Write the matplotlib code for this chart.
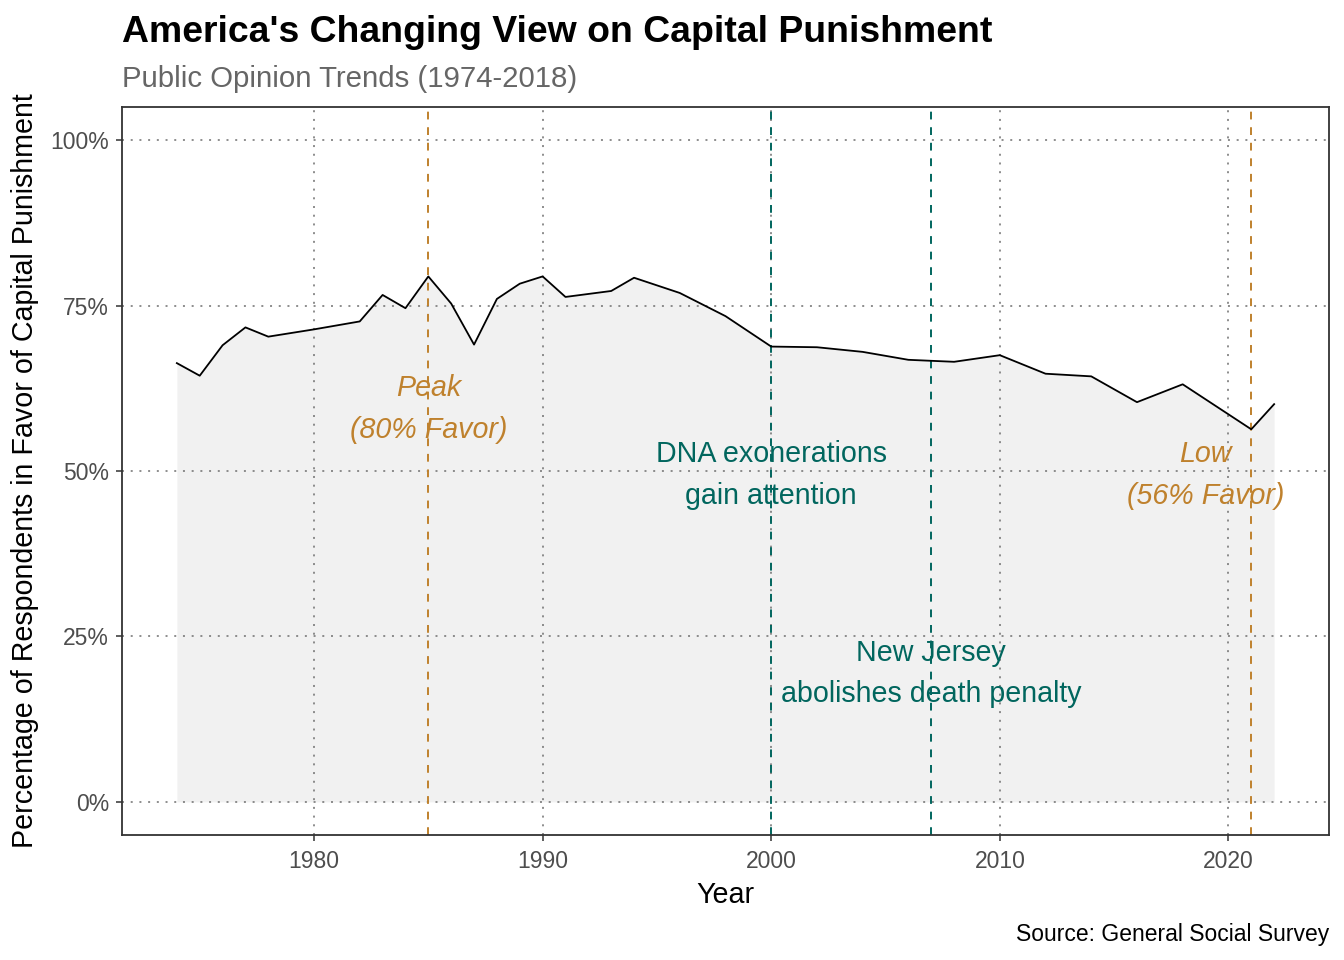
import matplotlib
matplotlib.use("Agg")
import matplotlib.pyplot as plt
from matplotlib.ticker import FuncFormatter

plt.rcParams['font.family'] = ['Liberation Sans', 'DejaVu Sans']

years = [1974, 1975, 1976, 1977, 1978, 1980, 1982, 1983, 1984, 1985, 1986, 1987,
         1988, 1989, 1990, 1991, 1993, 1994, 1996, 1998, 2000, 2002, 2004, 2006,
         2008, 2010, 2012, 2014, 2016, 2018, 2021, 2022]
favor = [66.3, 64.4, 69.0, 71.7, 70.3, 71.4, 72.6, 76.6, 74.6, 79.4, 75.3, 69.1,
         76.0, 78.3, 79.4, 76.3, 77.2, 79.2, 76.9, 73.4, 68.8, 68.7, 68.0, 66.8,
         66.5, 67.5, 64.7, 64.3, 60.4, 63.1, 56.3, 60.1]

event_years = [1985, 2000, 2007, 2021]
event_kinds = ['extreme', 'event', 'event', 'extreme']
labels = ["Peak\n(80% Favor)", "DNA exonerations\ngain attention",
          "New Jersey\nabolishes death penalty", "Low\n(56% Favor)"]
label_x = [1985, 2000, 2007, 2019]
label_y = [59.4, 49.4, 19.4, 49.4]

x_ticks = [1980, 1990, 2000, 2010, 2020]
y_ticks = [0, 25, 50, 75, 100]

ORANGE = '#BF812D'
TEAL = '#01665E'
kind_color = {'extreme': ORANGE, 'event': TEAL}
kind_style = {'extreme': 'italic', 'event': 'normal'}

fig = plt.figure(figsize=(13.44, 9.6), dpi=100)
ax = fig.add_axes([122/1344, 1-835/960, (1329-122)/1344, (835-107)/960])

ax.fill_between(years, 0, favor, color='#F1F1F1', linewidth=0, zorder=0.2)
ax.plot(years, favor, color='black', linewidth=1.3, zorder=3)

for yr, k in zip(event_years, event_kinds):
    ax.axvline(yr, color=kind_color[k], linewidth=1.4, linestyle=(0, (4, 4)), zorder=2)

for lx, ly, txt, k in zip(label_x, label_y, labels, event_kinds):
    ax.text(lx, ly, txt, color=kind_color[k], fontsize=20.6, style=kind_style[k],
            ha='center', va='center', linespacing=1.62, zorder=4)

ax.set_xlim(1971.6, 2024.4)
ax.set_ylim(-5, 105)
ax.set_xticks(x_ticks)
ax.set_yticks(y_ticks)
ax.yaxis.set_major_formatter(FuncFormatter(lambda v, p: f"{int(v)}%"))

ax.set_axisbelow(True)
ax.grid(True, color='#6F6F6F', linewidth=1.1, linestyle=(0, (1.3, 4.4)))
for s in ax.spines.values():
    s.set_color('#333333')
    s.set_linewidth(1.3)
ax.tick_params(axis='both', which='major', length=4.3, width=1.1, color='#333333',
               labelsize=16.5, labelcolor='#4D4D4D')
ax.tick_params(axis='x', pad=6.5)
ax.tick_params(axis='y', pad=5)

ax.set_xlabel('Year', fontsize=20.6, color='black', labelpad=6)
ax.set_ylabel('Percentage of Respondents in Favor of Capital Punishment',
              fontsize=20.6, color='black', labelpad=8)

fig.text(122/1344, 1-42/960, "America's Changing View on Capital Punishment",
         fontsize=26.9, fontweight='bold', color='black', ha='left', va='baseline')
fig.text(122/1344, 1-87/960, "Public Opinion Trends (1974-2018)",
         fontsize=21.2, color='#666666', ha='left', va='baseline')
fig.text(1329/1344, 1-941/960, "Source: General Social Survey",
         fontsize=16.5, color='black', ha='right', va='baseline')

fig.savefig('out.png', dpi=100)
